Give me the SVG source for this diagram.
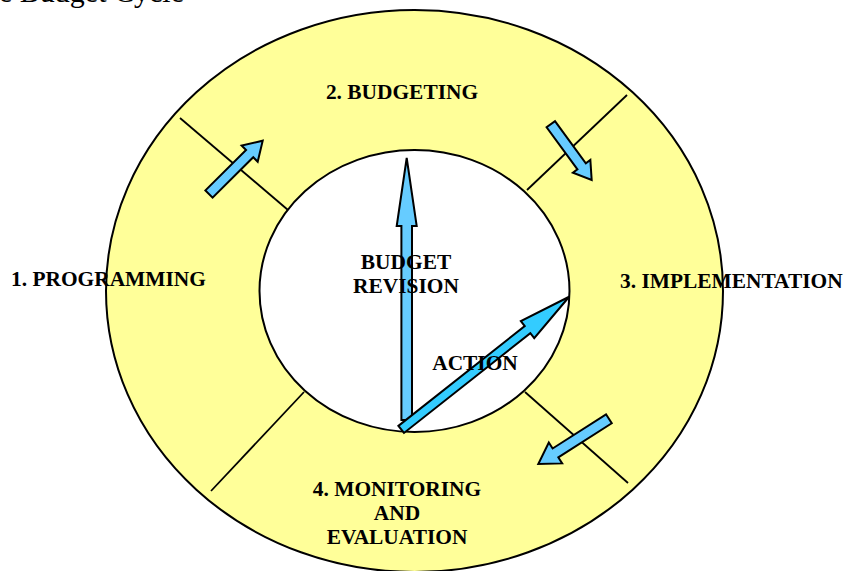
<svg xmlns="http://www.w3.org/2000/svg" width="845" height="571" viewBox="0 0 845 571">
  <style>
    .lbl { font-family: "Liberation Serif", "Times New Roman", serif; font-weight: bold; font-size: 21.4px; fill: #000; }
    .title { font-family: "Liberation Serif", "Times New Roman", serif; font-size: 30px; fill: #000; }
    .ring { fill: #FFFF99; stroke: #000; stroke-width: 2; }
    .hub { fill: #FFFFFF; stroke: #000; stroke-width: 2; }
    .divider { stroke: #000; stroke-width: 1.8; fill: none; }
    .arrow { fill: #66CCFF; stroke: #000; stroke-width: 2; stroke-linejoin: miter; }
    .arrow-action { fill: #33CCFF; stroke: #000; stroke-width: 2; stroke-linejoin: miter; }
  </style>

  <rect x="0" y="0" width="845" height="571" fill="#FFFFFF"/>
  <text class="title" x="-1" y="2">e Budget Cycle</text>

  <!-- outer ring and central hub -->
  <ellipse class="ring" cx="414.5" cy="291" rx="308.5" ry="281"/>
  <ellipse class="hub" cx="414.5" cy="291" rx="155" ry="141"/>

  <!-- sector dividers -->
  <g id="dividers">
    <line class="divider" x1="180" y1="118" x2="288" y2="210"/>
    <line class="divider" x1="627" y1="95" x2="527" y2="190"/>
    <line class="divider" x1="525" y1="392" x2="628" y2="483"/>
    <line class="divider" x1="304" y1="392" x2="211" y2="491"/>
  </g>

  <g id="programming">
    <text class="lbl" x="11" y="286">1. PROGRAMMING</text>
  </g>
  <g id="budgeting">
    <text class="lbl" x="402" y="99" text-anchor="middle">2. BUDGETING</text>
  </g>
  <g id="implementation">
    <text class="lbl" x="620" y="288">3. IMPLEMENTATION</text>
  </g>
  <g id="monitoring">
    <text class="lbl" x="397" y="496" text-anchor="middle">4. MONITORING</text>
    <text class="lbl" x="397" y="520" text-anchor="middle">AND</text>
    <text class="lbl" x="397" y="544" text-anchor="middle">EVALUATION</text>
  </g>

  <!-- cycle arrows -->
  <g id="connectors">
    <polygon class="arrow" transform="translate(209,194) rotate(-44.8)" points="0,-5.1 57.3,-5.1 57.3,-11.4 75.7,0 57.3,11.4 57.3,5.1 0,5.1"/>
    <polygon class="arrow" transform="translate(550.8,124.2) rotate(53.8)" points="0,-5.2 52.2,-5.2 52.2,-10.8 69.2,0 52.2,10.8 52.2,5.2 0,5.2"/>
    <polygon class="arrow" transform="translate(608.9,418.8) rotate(147.4)" points="0,-5.3 63.4,-5.3 63.4,-12.4 83.8,0 63.4,12.4 63.4,5.3 0,5.3"/>
    <polygon class="arrow" transform="translate(406.7,420) rotate(-90)" points="0,-5.3 194,-5.3 194,-10 262,0 194,10 194,5.3 0,5.3"/>
    <polygon class="arrow-action" transform="translate(401.2,429.4) rotate(-38.3)" points="0,-4.5 161,-4.5 161,-10.8 214,0 161,10.8 161,4.5 0,4.5"/>
  </g>

  <g id="budget-revision">
    <text class="lbl" x="406" y="269" text-anchor="middle">BUDGET</text>
    <text class="lbl" x="406" y="293" text-anchor="middle">REVISION</text>
  </g>
  <g id="action">
    <text class="lbl" x="475" y="370" text-anchor="middle">ACTION</text>
  </g>
</svg>
